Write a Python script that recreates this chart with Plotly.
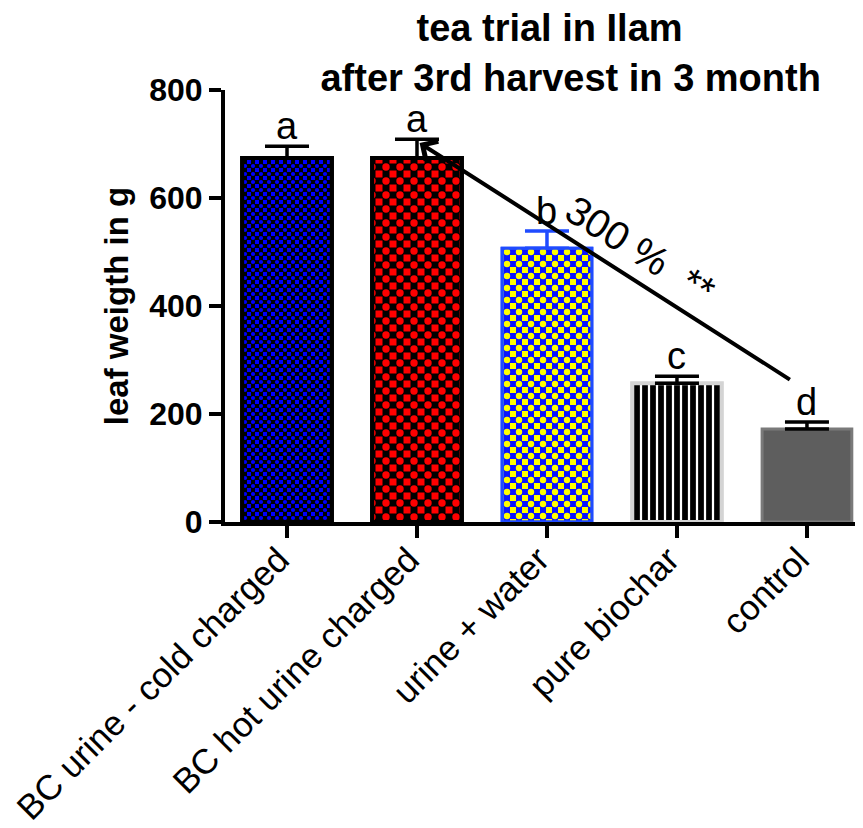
import plotly.graph_objects as go

categories = ['BC urine - cold charged', 'BC hot urine charged', 'urine + water', 'pure biochar', 'control']
means = [674, 674, 507, 257, 172]
sems = [22, 35, 32, 13, 13]
letters = ['a', 'a', 'b', 'c', 'd']

FONT = 'Arial, Liberation Sans, sans-serif'
BAR_W = 0.69

# checkerboards are a '+' grid with dots laid on top of it
looks = [
    dict(shape='+', fg='black', bg='#0000ff', dot='#0000ff', size=8, sol=0.75, line='black', lw=4, err='black'),
    dict(shape='+', fg='black', bg='#ff0000', dot='#ff0000', size=14, sol=0.75, line='black', lw=4, err='black'),
    dict(shape='+', fg='#0a14ff', bg='#ffff00', dot='#ffff00', size=12, sol=0.75, line='#1f4bff', lw=3, err='#1f4bff'),
    dict(shape='|', fg='black', bg='white', dot=None, size=8, sol=0.72, line='#d4d4d4', lw=4, err='black'),
    dict(shape='', fg='#5e5e5e', bg='#5e5e5e', dot=None, size=8, sol=0.5, line='#7a7a7a', lw=3, err='black'),
]

fig = go.Figure()
for cat, m, s, lk in zip(categories, means, sems, looks):
    fig.add_trace(go.Bar(
        x=[cat], y=[m], width=BAR_W,
        marker=dict(color=lk['bg'], line=dict(color=lk['line'], width=lk['lw']),
                    pattern=dict(shape=lk['shape'], fgcolor=lk['fg'], bgcolor=lk['bg'],
                                 size=lk['size'], solidity=lk['sol'], fillmode='replace')),
        error_y=dict(type='data', array=[s], arrayminus=[0], symmetric=False,
                     color=lk['err'], thickness=3.5, width=22),
        showlegend=False,
    ))
    if lk['dot']:
        fig.add_trace(go.Bar(
            x=[cat], y=[m], width=BAR_W,
            marker=dict(color='rgba(0,0,0,0)', line=dict(color=lk['line'], width=lk['lw']),
                        pattern=dict(shape='.', fgcolor=lk['dot'], bgcolor='rgba(0,0,0,0)',
                                     size=lk['size'], solidity=0.22, fillmode='replace')),
            hoverinfo='skip', showlegend=False,
        ))

for cat, m, s, t in zip(categories, means, sems, letters):
    fig.add_annotation(x=cat, y=m + s, text=t, showarrow=False, yanchor='bottom',
                       yshift=-3, font=dict(family=FONT, size=38, color='black'))

fig.add_annotation(x=1.02, y=702, ax=3.88, ay=262, xref='x', yref='y', axref='x', ayref='y',
                   text='', showarrow=True, arrowhead=4, arrowsize=1.1, arrowwidth=4,
                   arrowcolor='black')
fig.add_annotation(x=2.72, y=504, text='300 %\u00a0\u00a0**', showarrow=False, textangle=32,
                   font=dict(family=FONT, size=40, color='black'))

fig.update_layout(
    width=863, height=828,
    barmode='overlay',
    paper_bgcolor='white', plot_bgcolor='white',
    margin=dict(l=217, r=11, t=82, b=314),
    font=dict(family=FONT, color='black'),
    title=dict(text='tea trial in Ilam\u00a0\u00a0\u00a0\u00a0<br>after 3rd harvest in 3 month',
               x=0.652, xanchor='center', y=0.96, yanchor='top',
               font=dict(family=FONT, size=38, weight='bold', color='black')),
)
fig.update_xaxes(
    range=[-0.477, 4.408], showline=True, linewidth=4, linecolor='black',
    ticks='outside', ticklen=12, tickwidth=4, tickcolor='black',
    tickangle=-45, tickfont=dict(family=FONT, size=35, color='black'),
    ticklabelstandoff=-13, ticklabelshift=-8,
    showgrid=False, zeroline=False, automargin=False,
)
fig.update_yaxes(
    range=[0, 800], tickvals=[0, 200, 400, 600, 800],
    showline=True, linewidth=4, linecolor='black',
    ticks='outside', ticklen=12, tickwidth=4, tickcolor='black',
    tickfont=dict(family=FONT, size=32, weight='bold', color='black'),
    title=dict(text='leaf weigth in g', standoff=12,
               font=dict(family=FONT, size=33, weight='bold', color='black')),
    showgrid=False, zeroline=False, automargin=False,
)

fig.write_html('out.html')
